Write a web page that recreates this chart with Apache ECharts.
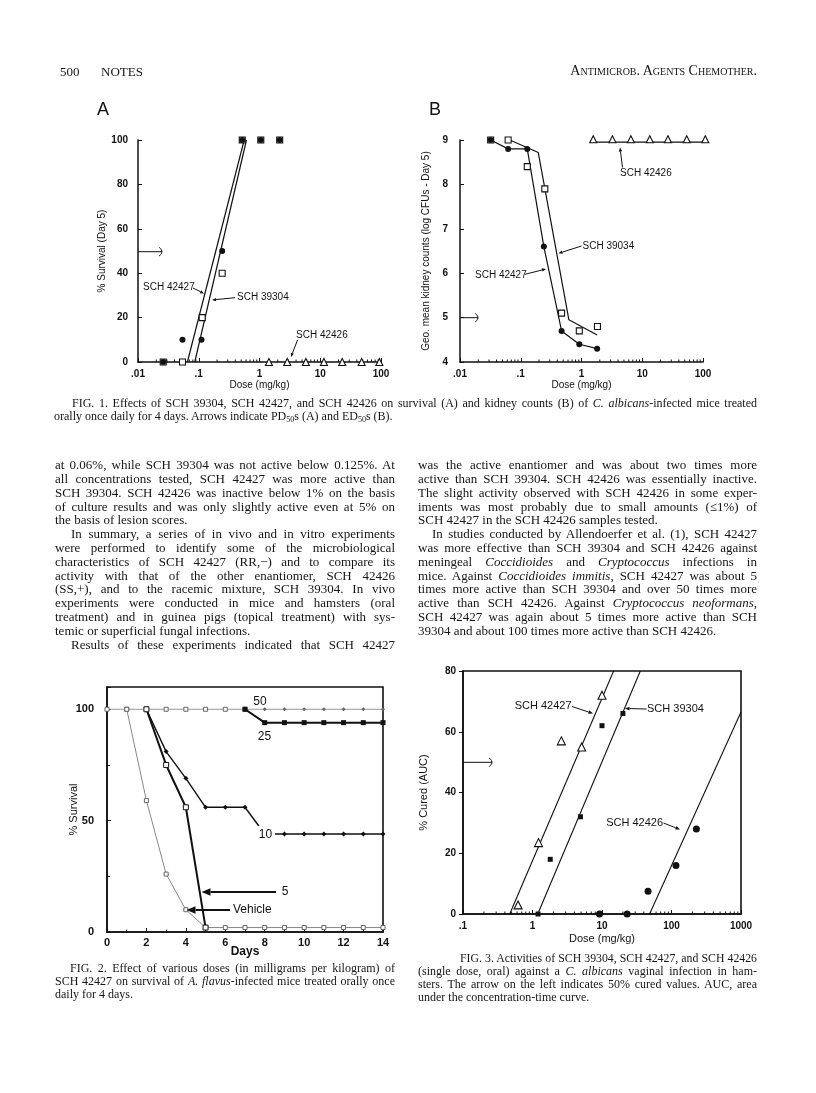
<!DOCTYPE html>
<html>
<head>
<meta charset="utf-8">
<script src="https://cdn.jsdelivr.net/npm/echarts@6/dist/echarts.min.js"></script>
<style>
  body { margin: 0; background: #fff; }
  #page { position: relative; width: 816px; height: 1093px; overflow: hidden; background: #fff; }
  #chart { position: absolute; left: 0; top: 0; width: 816px; height: 1093px; }
  .ln { position: absolute; font-family: "Liberation Serif", "Times New Roman", serif; color: #151515; text-align: justify; }
  .hd { position: absolute; font-family: "Liberation Serif", serif; color: #151515; font-size: 13px; white-space: nowrap; }
  .pl { position: absolute; font-family: "Liberation Sans", Arial, sans-serif; color: #111; font-size: 18px; }
  sub { font-size: 8px; vertical-align: -2px; line-height: 0; }
</style>
</head>
<body>
<div id="page">
  <div id="chart"></div>
  <div class="hd" style="left:60px;top:64px">500</div>
  <div class="hd" style="left:101px;top:64px">NOTES</div>
  <div class="hd" style="right:59px;top:63px;font-variant:small-caps;font-size:14px">Antimicrob. Agents Chemother.</div>
  <div class="pl" style="left:97px;top:99px">A</div>
  <div class="pl" style="left:429px;top:99px">B</div>
</div>
<script>
// ---- Fig. 1A: % survival (day 5) vs dose ----
const doseA42427 = [0.026, 0.054, 0.111, 0.243, 0.52, 1.05, 2.15]
const survA42427 = [0, 10, 10, 50, 100, 100, 100]
const doseA39304 = [0.026, 0.054, 0.114, 0.243, 0.52, 1.05, 2.15]
const survA39304 = [0, 0, 20, 40, 100, 100, 100]
const doseA42426 = [1.43, 2.86, 5.8, 11.5, 23, 48, 94]
const survA42426 = [0, 0, 0, 0, 0, 0, 0]
const fitA42427Dose = [0.065, 0.56]
const fitA39304Dose = [0.086, 0.61]
const fitASurv = [0, 100]

// ---- Fig. 1B: kidney counts vs dose ----
const doseB42427 = [0.032, 0.062, 0.128, 0.24, 0.47, 0.92, 1.81]
const cfuB42427 = [9.0, 8.8, 8.8, 6.6, 4.7, 4.4, 4.3]
const doseB39034 = [0.032, 0.062, 0.128, 0.249, 0.47, 0.92, 1.83]
const cfuB39034 = [9.0, 9.0, 8.4, 7.9, 5.1, 4.7, 4.8]
const fitB39034Dose = [0.066, 0.194, 0.62, 1.81]
const fitB39034Cfu = [9.0, 8.72, 4.95, 4.61]
const doseB42426 = [1.56, 3.23, 6.5, 13.3, 26.5, 54, 109]
const cfuB42426 = [8.95, 8.95, 8.95, 8.95, 8.95, 8.95, 8.95]

// ---- Fig. 2: % survival vs days ----
const days50 = [0, 1, 2, 3, 4, 5, 6, 7, 8, 9, 10, 11, 12, 13, 14]
const surv50 = [100, 100, 100, 100, 100, 100, 100, 100, 100, 100, 100, 100, 100, 100, 100]
const days25 = [7, 8, 9, 10, 11, 12, 13, 14]
const surv25 = [100, 94, 94, 94, 94, 94, 94, 94]
const days10 = [2, 3, 4, 5, 6, 7, 8, 9, 10, 11, 12, 13, 14]
const surv10 = [100, 81, 69, 56, 56, 56, 44, 44, 44, 44, 44, 44, 44]
const days5 = [2, 3, 4, 5]
const surv5 = [100, 75, 56, 2]
const daysVeh = [1, 2, 3, 4, 5, 6, 7, 8, 9, 10, 11, 12, 13, 14]
const survVeh = [100, 59, 26, 10, 2, 2, 2, 2, 2, 2, 2, 2, 2, 2]

// ---- Fig. 3: % cured vs dose ----
const dose3_42427 = [0.62, 1.22, 2.6, 5.1, 10]
const cured3_42427 = [3, 23.5, 57, 55, 72]
const dose3_39304 = [1.2, 1.8, 4.9, 10, 20]
const cured3_39304 = [0, 18, 32, 62, 66]
const dose3_42426 = [9.2, 23, 46, 116, 228]
const cured3_42426 = [0, 0, 7.5, 16, 28]
const fit3_42427Dose = [0.47, 14.7]
const fit3_39304Dose = [1.19, 35.6]
const fit3_42426Dose = [48.4, 1000]
const fit3Cured = [0, 80]
const fit3_42426Cured = [0, 66.5]

const INK = '#111'
const SANS = '"Liberation Sans", Arial, sans-serif'
const zip = (xs, ys) => xs.map((x, i) => [x, ys[i]])
const logLabel = v => {
  const n = Number(Number(v).toPrecision(3))
  return n < 1 ? String(n).replace(/^0/, '') : String(n)
}

// log-axis minor ticks (2..9 in each decade), drawn through the axis scale
const minorLogTicks = (xi, decades, yBase) => ({
  type: 'custom',
  xAxisIndex: xi,
  yAxisIndex: xi,
  silent: true,
  clip: false,
  data: decades.flatMap(d => [2, 3, 4, 5, 6, 7, 8, 9].map(m => [d * m, yBase])),
  renderItem: (params, api) => {
    const p = api.coord([api.value(0), api.value(1)])
    return { type: 'line', shape: { x1: p[0], y1: p[1], x2: p[0], y2: p[1] - 2.5 }, style: { stroke: INK, lineWidth: 1 } }
  }
})

const logX = (gi, min, max, name, nameGap) => ({
  type: 'log', logBase: 10, gridIndex: gi, min, max,
  name, nameLocation: 'middle', nameGap,
  nameTextStyle: { fontFamily: SANS, fontSize: gi === 3 ? 11 : 10, color: INK },
  axisLine: { lineStyle: { color: INK, width: 1.5 } },
  axisTick: { inside: true, length: 4, lineStyle: { color: INK } },
  axisLabel: { formatter: logLabel, fontFamily: SANS, fontSize: 10, fontWeight: 'bold', color: INK, margin: 7 },
  splitLine: { show: false }
})

const valY = (gi, min, max, interval, name, nameGap, extra) => Object.assign({
  type: 'value', gridIndex: gi, min, max, interval,
  name, nameLocation: 'middle', nameGap, nameRotate: 90,
  nameTextStyle: { fontFamily: SANS, fontSize: 10, color: INK },
  axisLine: { show: true, lineStyle: { color: INK, width: 1.5 } },
  axisTick: { show: true, inside: true, length: 4, lineStyle: { color: INK } },
  axisLabel: { fontFamily: SANS, fontSize: 10, fontWeight: 'bold', color: INK, margin: 10 },
  splitLine: { show: false }
}, extra || {})

const fitLine = (xi, xs, ys, w) => ({
  type: 'line', xAxisIndex: xi, yAxisIndex: xi, data: zip(xs, ys),
  symbol: 'none', lineStyle: { color: INK, width: w || 1.2 }, z: 2
})
const dots = (xi, xs, ys, symbol, size, open) => ({
  type: 'scatter', xAxisIndex: xi, yAxisIndex: xi, data: zip(xs, ys),
  symbol, symbolSize: size,
  itemStyle: open ? { color: '#fff', borderColor: INK, borderWidth: 1.1, opacity: 1 } : { color: INK, opacity: 1 },
  z: 3
})

// ---- annotations ----
const G = []
const text = (x, y, s, size, align, extra) => G.push(Object.assign({
  type: 'text', x, y, z: 100,
  style: { text: s, font: (size || 10) + 'px ' + SANS, fill: INK, textAlign: align || 'left', textVerticalAlign: 'middle' }
}, extra || {}))
const arrow = (x1, y1, x2, y2, w, head) => {
  const a = Math.atan2(y2 - y1, x2 - x1)
  const bx = x2 - head * Math.cos(a), by = y2 - head * Math.sin(a)
  const px = -Math.sin(a) * head * 0.42, py = Math.cos(a) * head * 0.42
  G.push({ type: 'line', z: 100, shape: { x1, y1, x2: bx, y2: by }, style: { stroke: INK, lineWidth: w } })
  G.push({ type: 'polygon', z: 100, shape: { points: [[x2, y2], [bx + px, by + py], [bx - px, by - py]] }, style: { fill: INK } })
}
const openArrow = (x1, y, x2) => {
  G.push({ type: 'line', z: 100, shape: { x1, y1: y, x2, y2: y }, style: { stroke: INK, lineWidth: 1 } })
  G.push({ type: 'polyline', z: 100, shape: { points: [[x2 - 3, y - 4.5], [x2, y], [x2 - 3, y + 4.5]], smooth: 0.5 }, style: { stroke: INK, lineWidth: 1, fill: null } })
}

// Fig 1A
text(143, 287, 'SCH 42427', 10)
arrow(193, 288, 204, 293.5, 1, 4)
text(237, 297.5, 'SCH 39304', 10)
arrow(235, 297.7, 212, 300, 1, 4)
text(296, 335, 'SCH 42426', 10)
arrow(297.5, 340, 291, 357, 1, 4)
openArrow(138, 251.7, 162)
// Fig 1B
text(620, 173.5, 'SCH 42426', 10)
arrow(622.5, 167.5, 620, 147.5, 1, 4)
text(582.5, 246, 'SCH 39034', 10)
arrow(581.5, 246, 558.5, 253.3, 1, 4)
text(475, 275, 'SCH 42427', 10)
arrow(525, 274.3, 546, 269, 1, 4)
openArrow(460, 317.7, 478)
// Fig 2
text(260, 702, '50', 12, 'center')
text(264.5, 737, '25', 12, 'center')
G.push({ type: 'rect', z: 99, shape: { x: 256, y: 826, width: 19, height: 17 }, style: { fill: '#fff' } })
text(265.5, 835, '10', 12, 'center')
text(285, 892, '5', 12, 'center')
arrow(276, 892, 201.5, 892, 2, 9)
text(233, 910, 'Vehicle', 12)
arrow(230, 910, 186.5, 910, 2, 9)
// Fig 3
text(571.5, 706, 'SCH 42427', 11, 'right')
arrow(572, 706.5, 593, 713.5, 1, 4.5)
text(647, 709, 'SCH 39304', 11)
arrow(646.5, 709, 625, 708.5, 1, 4.5)
text(663, 822.5, 'SCH 42426', 11, 'right')
arrow(663.5, 823, 680, 829.5, 1, 4.5)
openArrow(463, 762.3, 492)

const fig2Point = (days, vals, style) => days.map((d, i) => Object.assign({ value: [d, vals[i]] }, style(d)))

const option = {
  animation: false,
  backgroundColor: 'transparent',
  grid: [
    { left: 138, top: 140, width: 243, height: 222 },
    { left: 460, top: 140, width: 243, height: 222 },
    { left: 107, top: 687, width: 276, height: 245, show: true, borderColor: INK, borderWidth: 1.6, backgroundColor: 'transparent' },
    { left: 463, top: 671, width: 278, height: 243, show: true, borderColor: INK, borderWidth: 1.6, backgroundColor: 'transparent' }
  ],
  xAxis: [
    logX(0, 0.01, 100, 'Dose (mg/kg)', 17),
    logX(1, 0.01, 100, 'Dose (mg/kg)', 17),
    {
      type: 'value', gridIndex: 2, min: 0, max: 14, interval: 2,
      name: 'Days', nameLocation: 'middle', nameGap: 14, nameMoveOverlap: false,
      nameTextStyle: { fontFamily: SANS, fontSize: 12, fontWeight: 'bold', color: INK },
      axisLine: { lineStyle: { color: INK, width: 1.6 } },
      axisTick: { inside: true, length: 4, lineStyle: { color: INK } },
      minorTick: { show: true, splitNumber: 2, length: 2.5, lineStyle: { color: INK } },
      axisLabel: { fontFamily: SANS, fontSize: 11, fontWeight: 'bold', color: INK, margin: 5 },
      splitLine: { show: false }
    },
    logX(3, 0.1, 1000, 'Dose (mg/kg)', 19)
  ],
  yAxis: [
    valY(0, 0, 100, 20, '% Survival (Day 5)', 31),
    valY(1, 4, 9, 1, 'Geo. mean kidney counts (log CFUs - Day 5)', 29, { axisLabel: { fontFamily: SANS, fontSize: 10, fontWeight: 'bold', color: INK, margin: 12 } }),
    valY(2, 0, 110, 50, '% Survival', 28, {
      nameMoveOverlap: false,
      nameTextStyle: { fontFamily: SANS, fontSize: 11, color: INK },
      minorTick: { show: true, splitNumber: 2, length: 3, lineStyle: { color: INK } },
      axisLabel: { fontFamily: SANS, fontSize: 11, fontWeight: 'bold', color: INK, margin: 13, formatter: v => (v % 50 === 0 ? v : '') }
    }),
    valY(3, 0, 80, 20, '% Cured (AUC)', 34, {
      nameTextStyle: { fontFamily: SANS, fontSize: 11, color: INK },
      axisTick: { show: true, inside: false, length: 4, lineStyle: { color: INK } },
      axisLabel: { fontFamily: SANS, fontSize: 10, fontWeight: 'bold', color: INK, margin: 7 }
    })
  ],
  series: [
    // Fig 1A
    minorLogTicks(0, [0.01, 0.1, 1, 10], 0),
    fitLine(0, fitA42427Dose, fitASurv),
    fitLine(0, fitA39304Dose, fitASurv),
    dots(0, doseA39304, survA39304, 'rect', 6, true),
    dots(0, doseA42427, survA42427, 'circle', 6, false),
    dots(0, doseA42426, survA42426, 'triangle', 7, true),
    // Fig 1B
    minorLogTicks(1, [0.01, 0.1, 1, 10], 4),
    fitLine(1, fitB39034Dose, fitB39034Cfu),
    dots(1, doseB39034, cfuB39034, 'rect', 6, true),
    {
      type: 'line', xAxisIndex: 1, yAxisIndex: 1, data: zip(doseB42427, cfuB42427),
      symbol: 'circle', symbolSize: 6, showAllSymbol: true,
      itemStyle: { color: INK }, lineStyle: { color: INK, width: 1.2 }, z: 3
    },
    {
      type: 'line', xAxisIndex: 1, yAxisIndex: 1, data: zip(doseB42426, cfuB42426), clip: false,
      symbol: 'triangle', symbolSize: 7, symbolOffset: [0, -3], showAllSymbol: true,
      itemStyle: { color: '#fff', borderColor: INK, borderWidth: 1.1 }, lineStyle: { color: INK, width: 1.2 }, z: 3
    },
    // Fig 2
    {
      type: 'line', xAxisIndex: 2, yAxisIndex: 2, showAllSymbol: true, symbolSize: 4,
      data: fig2Point(days50, surv50, d => d <= 7
        ? { symbol: 'rect', itemStyle: { color: '#fff', borderColor: '#666', borderWidth: 1 } }
        : { symbol: 'diamond', itemStyle: { color: '#666' } }),
      lineStyle: { color: '#999', width: 1 }, z: 2
    },
    {
      type: 'line', xAxisIndex: 2, yAxisIndex: 2, showAllSymbol: true, data: zip(daysVeh, survVeh),
      symbol: 'rect', symbolSize: 4, itemStyle: { color: '#fff', borderColor: '#666', borderWidth: 1 },
      lineStyle: { color: '#888', width: 1 }, z: 2
    },
    {
      type: 'line', xAxisIndex: 2, yAxisIndex: 2, showAllSymbol: true, data: zip(days25, surv25),
      symbol: 'rect', symbolSize: 5, itemStyle: { color: INK }, lineStyle: { color: INK, width: 2 }, z: 3
    },
    {
      type: 'line', xAxisIndex: 2, yAxisIndex: 2, showAllSymbol: true, data: zip(days10, surv10),
      symbol: 'diamond', symbolSize: 5, itemStyle: { color: INK }, lineStyle: { color: INK, width: 1.4 }, z: 3
    },
    {
      type: 'line', xAxisIndex: 2, yAxisIndex: 2, showAllSymbol: true, data: zip(days5, surv5),
      symbol: 'rect', symbolSize: 5, itemStyle: { color: '#fff', borderColor: INK, borderWidth: 1 },
      lineStyle: { color: INK, width: 2 }, z: 3
    },
    // Fig 3
    minorLogTicks(3, [0.1, 1, 10, 100], 0),
    fitLine(3, fit3_42427Dose, fit3Cured, 1.1),
    fitLine(3, fit3_39304Dose, fit3Cured, 1.1),
    fitLine(3, fit3_42426Dose, fit3_42426Cured, 1.1),
    dots(3, dose3_42427, cured3_42427, 'triangle', 8, true),
    dots(3, dose3_39304, cured3_39304, 'rect', 5, false),
    dots(3, dose3_42426, cured3_42426, 'circle', 7, false)
  ],
  graphic: G
}

const chart = echarts.init(document.getElementById('chart'))
chart.setOption(option)

// ---- page text ----
const page = document.getElementById('page')
const J = (t, indent) => ({ t, indent: indent || 0 })
const L = (t, indent) => ({ t, indent: indent || 0, last: true })

const leftCol = [
  J('at 0.06%, while SCH 39304 was not active below 0.125%. At'),
  J('all concentrations tested, SCH 42427 was more active than'),
  J('SCH 39304. SCH 42426 was inactive below 1% on the basis'),
  J('of culture results and was only slightly active even at 5% on'),
  L('the basis of lesion scores.'),
  J('In summary, a series of in vivo and in vitro experiments', 16),
  J('were performed to identify some of the microbiological'),
  J('characteristics of SCH 42427 (RR,\u2212) and to compare its'),
  J('activity with that of the other enantiomer, SCH 42426'),
  J('(SS,+), and to the racemic mixture, SCH 39304. In vivo'),
  J('experiments were conducted in mice and hamsters (oral'),
  J('treatment) and in guinea pigs (topical treatment) with sys-'),
  L('temic or superficial fungal infections.'),
  J('Results of these experiments indicated that SCH 42427', 16)
]
const rightCol = [
  J('was the active enantiomer and was about two times more'),
  J('active than SCH 39304. SCH 42426 was essentially inactive.'),
  J('The slight activity observed with SCH 42426 in some exper-'),
  J('iments was most probably due to small amounts (\u22641%) of'),
  L('SCH 42427 in the SCH 42426 samples tested.'),
  J('In studies conducted by Allendoerfer et al. (1), SCH 42427', 14),
  J('was more effective than SCH 39304 and SCH 42426 against'),
  J('meningeal <i>Coccidioides</i> and <i>Cryptococcus</i> infections in'),
  J('mice. Against <i>Coccidioides immitis</i>, SCH 42427 was about 5'),
  J('times more active than SCH 39304 and over 50 times more'),
  J('active than SCH 42426. Against <i>Cryptococcus neoformans</i>,'),
  J('SCH 42427 was again about 5 times more active than SCH'),
  L('39304 and about 100 times more active than SCH 42426.')
]
const cap1 = [
  J('FIG. 1. Effects of SCH 39304, SCH 42427, and SCH 42426 on survival (A) and kidney counts (B) of <i>C. albicans</i>-infected mice treated', 18),
  L('orally once daily for 4 days. Arrows indicate PD<sub>50</sub>s (A) and ED<sub>50</sub>s (B).')
]
const cap2 = [
  J('FIG. 2. Effect of various doses (in milligrams per kilogram) of', 15),
  J('SCH 42427 on survival of <i>A. flavus</i>-infected mice treated orally once'),
  L('daily for 4 days.')
]
const cap3 = [
  J('FIG. 3. Activities of SCH 39304, SCH 42427, and SCH 42426', 42),
  J('(single dose, oral) against a <i>C. albicans</i> vaginal infection in ham-'),
  J('sters. The arrow on the left indicates 50% cured values. AUC, area'),
  L('under the concentration-time curve.')
]

function addLines(lines, x, w, y0, lh, size) {
  lines.forEach((l, i) => {
    const d = document.createElement('div')
    d.className = 'ln'
    const lw = w - l.indent
    d.style.left = (x + l.indent) + 'px'
    d.style.top = (y0 + i * lh - lh / 2) + 'px'
    d.style.lineHeight = lh + 'px'
    d.style.height = lh + 'px'
    d.style.fontSize = size + 'px'
    d.style.whiteSpace = 'nowrap'
    d.innerHTML = l.t
    page.appendChild(d)
    const natural = d.getBoundingClientRect().width
    let fs = size
    if (natural > lw) fs = size * lw / natural * 0.995
    d.style.fontSize = fs + 'px'
    d.style.whiteSpace = 'normal'
    d.style.width = l.last ? 'auto' : lw + 'px'
    d.style.textAlignLast = l.last ? 'left' : 'justify'
  })
}

addLines(cap1, 54, 703, 403.5, 13, 12)
addLines(leftCol, 55, 340, 465, 13.8, 13)
addLines(rightCol, 418, 339, 465, 13.8, 13)
addLines(cap2, 55, 340, 968.3, 13.3, 12)
addLines(cap3, 418, 339, 958.3, 13, 12)
</script>
</body>
</html>
